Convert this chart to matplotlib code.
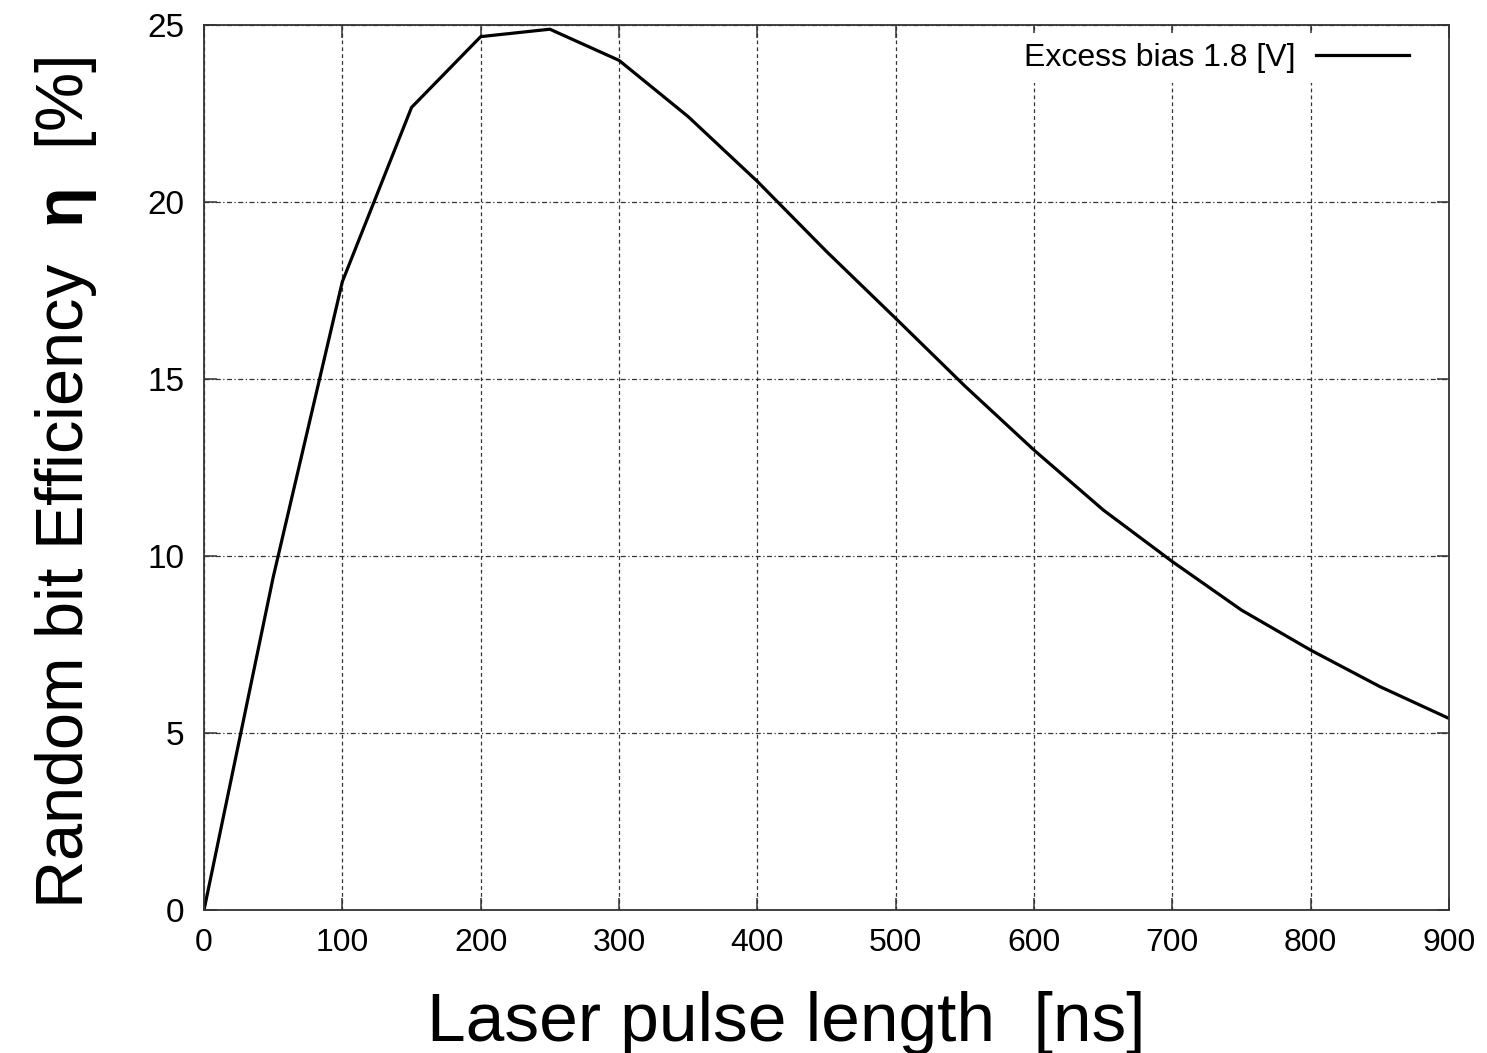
import matplotlib
matplotlib.use("Agg")
import matplotlib.pyplot as plt

plt.rcParams['font.family'] = ['Liberation Sans', 'DejaVu Sans']
plt.rcParams['mathtext.fontset'] = 'custom'
plt.rcParams['mathtext.rm'] = 'Liberation Sans'
plt.rcParams['mathtext.bf'] = 'Liberation Sans:bold'

# pulse length [ns] vs random bit efficiency [%]
pulse_ns = [0, 50, 100, 150, 200, 250, 300, 350, 400, 450,
            500, 550, 600, 650, 700, 750, 800, 850, 900]
efficiency = [0.0, 9.4, 17.75, 22.67, 24.67, 24.88, 24.0, 22.41, 20.58, 18.6,
              16.71, 14.8, 12.99, 11.3, 9.84, 8.47, 7.34, 6.31, 5.41]
series_label = "Excess bias 1.8 [V]"

fig = plt.figure(figsize=(14.87, 10.53), dpi=100)
ax = fig.add_axes([0.1372, 0.1358, 0.8373, 0.8405])

ax.plot(pulse_ns, efficiency, color='black', lw=2.3, label=series_label)

ax.set_xlim(0, 900)
ax.set_ylim(0, 25)
ax.set_xticks(range(0, 901, 100))
ax.set_yticks(range(0, 26, 5))

ax.xaxis.grid(True, color='#333333', lw=0.9, linestyle=(0, (3, 2.5)))
ax.yaxis.grid(True, color='#333333', lw=0.9, linestyle=(0, (4, 2, 1, 2)))
ax.set_axisbelow(True)

ax.tick_params(direction='in', length=9, width=1.1, top=True, right=True,
               color='#333333')
ax.tick_params(axis='x', pad=13, labelsize=23)
ax.tick_params(axis='y', pad=14, labelsize=24)
for s in ax.spines.values():
    s.set_linewidth(1.3)
    s.set_color('#333333')

ax.set_xlabel("Laser pulse length  [ns]", fontsize=50, labelpad=24)
ax.xaxis.label.set_x(0.468)
ax.set_ylabel(r"Random bit Efficiency  $\mathbf{\eta}$  [%]", fontsize=48)
ax.yaxis.set_label_coords(-0.084, 0.483)

# key sits in the top right corner, text first, then the line sample
leg = ax.legend(loc='upper right', bbox_to_anchor=(0.9756, 0.9905),
                markerfirst=False, frameon=True, fontsize=23,
                handlelength=2.9, handletextpad=0.66, borderaxespad=0,
                fancybox=False, borderpad=0.3)
leg.get_frame().set_edgecolor('none')
leg.get_frame().set_facecolor('white')
leg.get_frame().set_alpha(1)

fig.savefig("out.png", dpi=100)
